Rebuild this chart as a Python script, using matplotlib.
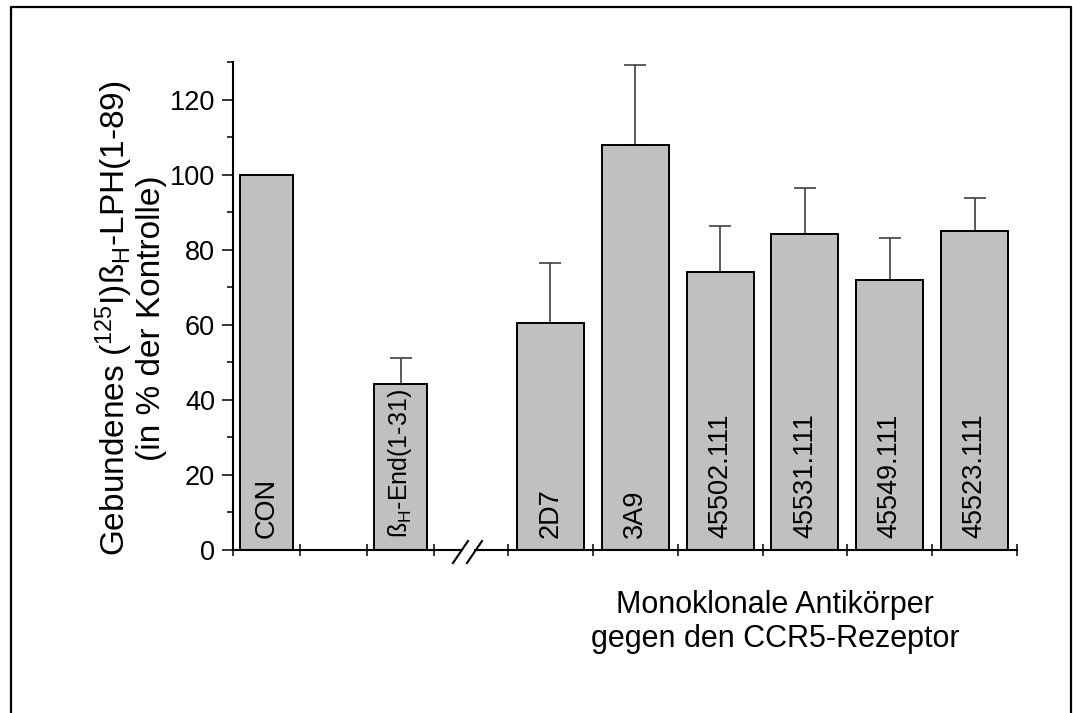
import matplotlib
matplotlib.use("Agg")
import matplotlib.pyplot as plt
from matplotlib.lines import Line2D
import numpy as np

plt.rcParams['font.family'] = ['Liberation Sans', 'DejaVu Sans']
plt.rcParams['mathtext.fontset'] = 'custom'
plt.rcParams['mathtext.rm'] = 'Liberation Sans'
plt.rcParams['mathtext.it'] = 'Liberation Sans:italic'
plt.rcParams['mathtext.bf'] = 'Liberation Sans:bold'

# data: left group (controls) and right group (antibodies)
left_labels = ["CON", "ß$_{\\rm H}$-End(1-31)"]
left_cells = [0, 2]
left_values = [100.0, 44.2]
left_errors = [0.0, 6.9]

right_labels = ["2D7", "3A9", "45502.111", "45531.111", "45549.111", "45523.111"]
right_values = [60.6, 107.8, 74.0, 84.2, 72.0, 85.1]
right_errors = [15.8, 21.5, 12.3, 12.2, 11.0, 8.7]

W, H = 1073, 713
fig = plt.figure(figsize=(W / 100, H / 100), dpi=100)


def fx(x):
    return x / W


def fy(y):
    return 1 - y / H


x0, y0, y1 = 233, 550, 62
axL = fig.add_axes([fx(x0), fy(y0), fx(434 - x0), (y0 - y1) / H])
axR = fig.add_axes([fx(508), fy(y0), fx(1017 - 508), (y0 - y1) / H], sharey=axL)

bar_kw = dict(width=0.79, color="#c0c0c0", edgecolor="black", linewidth=1.4, zorder=2)
err_kw = dict(fmt="none", ecolor="#404040", elinewidth=1.2, capsize=8, capthick=1.2, zorder=1)
lab_size = 19.5

# left part
lc = np.array(left_cells) + 0.5
axL.bar(lc, left_values, **bar_kw)
lerr = np.array(left_errors)
mask = lerr > 0
axL.errorbar(lc[mask], np.array(left_values)[mask],
             yerr=[np.zeros(mask.sum()), lerr[mask]], **err_kw)
for x, lab in zip(lc, left_labels):
    # the mathtext label runs a bit long, shrink it so it stays inside the bar
    size = lab_size - 1.5 if "$" in lab else lab_size
    axL.text(x, 3.2, lab, rotation=90, ha="center", va="bottom", fontsize=size)

# right part
rc = np.arange(len(right_values)) + 0.5
axR.bar(rc, right_values, **bar_kw)
axR.errorbar(rc, right_values, yerr=[np.zeros(len(rc)), right_errors], **err_kw)
for x, lab in zip(rc, right_labels):
    axR.text(x, 3.2, lab, rotation=90, ha="center", va="bottom", fontsize=lab_size)

axL.set_xlim(0, 3)
axR.set_xlim(0, 6)
axL.set_ylim(0, 130)
axL.set_yticks(np.arange(0, 121, 20))
axL.set_yticks(np.arange(10, 131, 20), minor=True)
axL.tick_params(axis="y", which="major", direction="out", length=8, width=1.1,
                labelsize=19.5, pad=5)
axL.tick_params(axis="y", which="minor", direction="out", length=4.3, width=1.1)

for ax, n in ((axL, 3), (axR, 6)):
    ax.set_xticks(np.arange(n + 1))
    ax.tick_params(axis="x", which="major", direction="inout", length=8.6, width=1.1,
                   labelbottom=False)
    ax.spines[["top", "right"]].set_visible(False)
    ax.spines["bottom"].set_linewidth(1.5)
    ax.spines["left"].set_linewidth(1.5)
    ax.patch.set_alpha(0)

axR.spines["left"].set_visible(False)
axR.tick_params(axis="y", which="both", left=False, labelleft=False)

# axis break
line_kw = dict(color="black", linewidth=1.5, transform=fig.transFigure)
fig.add_artist(Line2D([fx(434), fx(462)], [fy(y0), fy(y0)], **line_kw))
fig.add_artist(Line2D([fx(475), fx(508)], [fy(y0), fy(y0)], **line_kw))
fig.add_artist(Line2D([fx(453), fx(468)], [fy(563), fy(541)], **line_kw))
fig.add_artist(Line2D([fx(467), fx(482)], [fy(563), fy(541)], **line_kw))

# axis titles
fig.text(fx(130), fy(318),
         "Gebundenes ($^{125}$I)ß$_{\\rm H}$-LPH(1-89)\n(in % der Kontrolle)",
         rotation=90, ha="center", va="center", multialignment="center",
         fontsize=24, linespacing=1.05)
fig.text(fx(775), fy(622), "Monoklonale Antikörper\ngegen den CCR5-Rezeptor",
         ha="center", va="center", multialignment="center", fontsize=22,
         linespacing=1.2)

# outer frame (open at the bottom)
fig.add_artist(Line2D([fx(11), fx(11), fx(1071), fx(1071)],
                      [0, fy(7), fy(7), 0], color="black", linewidth=1.6,
                      transform=fig.transFigure))

fig.savefig("out.png", dpi=100)
